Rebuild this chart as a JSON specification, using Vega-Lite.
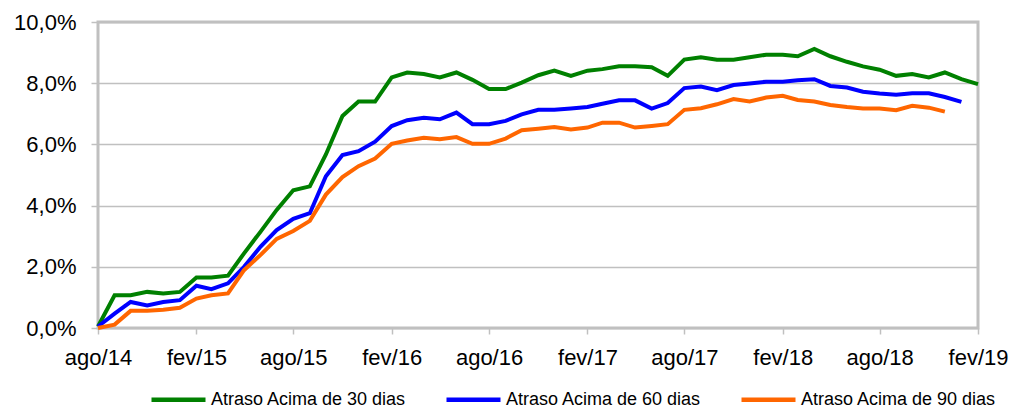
{
  "$schema": "https://vega.github.io/schema/vega-lite/v6.json",
  "width": 880,
  "height": 306,
  "autosize": {"type": "none"},
  "padding": {"left": 98, "top": 22, "right": 35, "bottom": 80},
  "background": "white",
  "data": {
    "values": [
      {"mes": "2014-08-01", "Atraso Acima de 30 dias": 0.05, "Atraso Acima de 60 dias": 0.05, "Atraso Acima de 90 dias": 0.0},
      {"mes": "2014-09-01", "Atraso Acima de 30 dias": 1.07, "Atraso Acima de 60 dias": 0.47, "Atraso Acima de 90 dias": 0.11},
      {"mes": "2014-10-01", "Atraso Acima de 30 dias": 1.07, "Atraso Acima de 60 dias": 0.85, "Atraso Acima de 90 dias": 0.56},
      {"mes": "2014-11-01", "Atraso Acima de 30 dias": 1.18, "Atraso Acima de 60 dias": 0.74, "Atraso Acima de 90 dias": 0.56},
      {"mes": "2014-12-01", "Atraso Acima de 30 dias": 1.13, "Atraso Acima de 60 dias": 0.85, "Atraso Acima de 90 dias": 0.60},
      {"mes": "2015-01-01", "Atraso Acima de 30 dias": 1.18, "Atraso Acima de 60 dias": 0.91, "Atraso Acima de 90 dias": 0.66},
      {"mes": "2015-02-01", "Atraso Acima de 30 dias": 1.65, "Atraso Acima de 60 dias": 1.38, "Atraso Acima de 90 dias": 0.96},
      {"mes": "2015-03-01", "Atraso Acima de 30 dias": 1.65, "Atraso Acima de 60 dias": 1.27, "Atraso Acima de 90 dias": 1.07},
      {"mes": "2015-04-01", "Atraso Acima de 30 dias": 1.71, "Atraso Acima de 60 dias": 1.46, "Atraso Acima de 90 dias": 1.13},
      {"mes": "2015-05-01", "Atraso Acima de 30 dias": 2.44, "Atraso Acima de 60 dias": 2.00, "Atraso Acima de 90 dias": 1.89},
      {"mes": "2015-06-01", "Atraso Acima de 30 dias": 3.15, "Atraso Acima de 60 dias": 2.66, "Atraso Acima de 90 dias": 2.39},
      {"mes": "2015-07-01", "Atraso Acima de 30 dias": 3.86, "Atraso Acima de 60 dias": 3.20, "Atraso Acima de 90 dias": 2.91},
      {"mes": "2015-08-01", "Atraso Acima de 30 dias": 4.50, "Atraso Acima de 60 dias": 3.57, "Atraso Acima de 90 dias": 3.17},
      {"mes": "2015-09-01", "Atraso Acima de 30 dias": 4.63, "Atraso Acima de 60 dias": 3.75, "Atraso Acima de 90 dias": 3.50},
      {"mes": "2015-10-01", "Atraso Acima de 30 dias": 5.67, "Atraso Acima de 60 dias": 4.96, "Atraso Acima de 90 dias": 4.36},
      {"mes": "2015-11-01", "Atraso Acima de 30 dias": 6.93, "Atraso Acima de 60 dias": 5.65, "Atraso Acima de 90 dias": 4.93},
      {"mes": "2015-12-01", "Atraso Acima de 30 dias": 7.40, "Atraso Acima de 60 dias": 5.78, "Atraso Acima de 90 dias": 5.29},
      {"mes": "2016-01-01", "Atraso Acima de 30 dias": 7.40, "Atraso Acima de 60 dias": 6.09, "Atraso Acima de 90 dias": 5.54},
      {"mes": "2016-02-01", "Atraso Acima de 30 dias": 8.19, "Atraso Acima de 60 dias": 6.60, "Atraso Acima de 90 dias": 6.02},
      {"mes": "2016-03-01", "Atraso Acima de 30 dias": 8.35, "Atraso Acima de 60 dias": 6.79, "Atraso Acima de 90 dias": 6.13},
      {"mes": "2016-04-01", "Atraso Acima de 30 dias": 8.30, "Atraso Acima de 60 dias": 6.87, "Atraso Acima de 90 dias": 6.22},
      {"mes": "2016-05-01", "Atraso Acima de 30 dias": 8.19, "Atraso Acima de 60 dias": 6.82, "Atraso Acima de 90 dias": 6.17},
      {"mes": "2016-06-01", "Atraso Acima de 30 dias": 8.35, "Atraso Acima de 60 dias": 7.04, "Atraso Acima de 90 dias": 6.24},
      {"mes": "2016-07-01", "Atraso Acima de 30 dias": 8.11, "Atraso Acima de 60 dias": 6.66, "Atraso Acima de 90 dias": 6.02},
      {"mes": "2016-08-01", "Atraso Acima de 30 dias": 7.81, "Atraso Acima de 60 dias": 6.66, "Atraso Acima de 90 dias": 6.02},
      {"mes": "2016-09-01", "Atraso Acima de 30 dias": 7.81, "Atraso Acima de 60 dias": 6.77, "Atraso Acima de 90 dias": 6.19},
      {"mes": "2016-10-01", "Atraso Acima de 30 dias": 8.02, "Atraso Acima de 60 dias": 6.98, "Atraso Acima de 90 dias": 6.46},
      {"mes": "2016-11-01", "Atraso Acima de 30 dias": 8.26, "Atraso Acima de 60 dias": 7.13, "Atraso Acima de 90 dias": 6.51},
      {"mes": "2016-12-01", "Atraso Acima de 30 dias": 8.41, "Atraso Acima de 60 dias": 7.13, "Atraso Acima de 90 dias": 6.57},
      {"mes": "2017-01-01", "Atraso Acima de 30 dias": 8.24, "Atraso Acima de 60 dias": 7.17, "Atraso Acima de 90 dias": 6.49},
      {"mes": "2017-02-01", "Atraso Acima de 30 dias": 8.41, "Atraso Acima de 60 dias": 7.22, "Atraso Acima de 90 dias": 6.55},
      {"mes": "2017-03-01", "Atraso Acima de 30 dias": 8.46, "Atraso Acima de 60 dias": 7.33, "Atraso Acima de 90 dias": 6.71},
      {"mes": "2017-04-01", "Atraso Acima de 30 dias": 8.55, "Atraso Acima de 60 dias": 7.44, "Atraso Acima de 90 dias": 6.71},
      {"mes": "2017-05-01", "Atraso Acima de 30 dias": 8.55, "Atraso Acima de 60 dias": 7.44, "Atraso Acima de 90 dias": 6.55},
      {"mes": "2017-06-01", "Atraso Acima de 30 dias": 8.52, "Atraso Acima de 60 dias": 7.17, "Atraso Acima de 90 dias": 6.60},
      {"mes": "2017-07-01", "Atraso Acima de 30 dias": 8.24, "Atraso Acima de 60 dias": 7.35, "Atraso Acima de 90 dias": 6.66},
      {"mes": "2017-08-01", "Atraso Acima de 30 dias": 8.77, "Atraso Acima de 60 dias": 7.84, "Atraso Acima de 90 dias": 7.13},
      {"mes": "2017-09-01", "Atraso Acima de 30 dias": 8.85, "Atraso Acima de 60 dias": 7.89, "Atraso Acima de 90 dias": 7.18},
      {"mes": "2017-10-01", "Atraso Acima de 30 dias": 8.77, "Atraso Acima de 60 dias": 7.77, "Atraso Acima de 90 dias": 7.31},
      {"mes": "2017-11-01", "Atraso Acima de 30 dias": 8.77, "Atraso Acima de 60 dias": 7.94, "Atraso Acima de 90 dias": 7.48},
      {"mes": "2017-12-01", "Atraso Acima de 30 dias": 8.85, "Atraso Acima de 60 dias": 7.99, "Atraso Acima de 90 dias": 7.40},
      {"mes": "2018-01-01", "Atraso Acima de 30 dias": 8.93, "Atraso Acima de 60 dias": 8.05, "Atraso Acima de 90 dias": 7.53},
      {"mes": "2018-02-01", "Atraso Acima de 30 dias": 8.93, "Atraso Acima de 60 dias": 8.05, "Atraso Acima de 90 dias": 7.59},
      {"mes": "2018-03-01", "Atraso Acima de 30 dias": 8.88, "Atraso Acima de 60 dias": 8.10, "Atraso Acima de 90 dias": 7.45},
      {"mes": "2018-04-01", "Atraso Acima de 30 dias": 9.12, "Atraso Acima de 60 dias": 8.13, "Atraso Acima de 90 dias": 7.40},
      {"mes": "2018-05-01", "Atraso Acima de 30 dias": 8.88, "Atraso Acima de 60 dias": 7.91, "Atraso Acima de 90 dias": 7.29},
      {"mes": "2018-06-01", "Atraso Acima de 30 dias": 8.70, "Atraso Acima de 60 dias": 7.86, "Atraso Acima de 90 dias": 7.22},
      {"mes": "2018-07-01", "Atraso Acima de 30 dias": 8.55, "Atraso Acima de 60 dias": 7.72, "Atraso Acima de 90 dias": 7.17},
      {"mes": "2018-08-01", "Atraso Acima de 30 dias": 8.44, "Atraso Acima de 60 dias": 7.66, "Atraso Acima de 90 dias": 7.17},
      {"mes": "2018-09-01", "Atraso Acima de 30 dias": 8.24, "Atraso Acima de 60 dias": 7.62, "Atraso Acima de 90 dias": 7.12},
      {"mes": "2018-10-01", "Atraso Acima de 30 dias": 8.30, "Atraso Acima de 60 dias": 7.67, "Atraso Acima de 90 dias": 7.26},
      {"mes": "2018-11-01", "Atraso Acima de 30 dias": 8.19, "Atraso Acima de 60 dias": 7.67, "Atraso Acima de 90 dias": 7.20},
      {"mes": "2018-12-01", "Atraso Acima de 30 dias": 8.35, "Atraso Acima de 60 dias": 7.55, "Atraso Acima de 90 dias": 7.07},
      {"mes": "2019-01-01", "Atraso Acima de 30 dias": 8.13, "Atraso Acima de 60 dias": 7.39},
      {"mes": "2019-02-01", "Atraso Acima de 30 dias": 7.97}
    ]
  },
  "transform": [
    {"fold": ["Atraso Acima de 30 dias", "Atraso Acima de 60 dias", "Atraso Acima de 90 dias"], "as": ["serie", "valor"]},
    {"filter": "isValid(datum.valor)"}
  ],
  "mark": {"type": "line", "strokeWidth": 4, "strokeJoin": "miter", "strokeCap": "butt", "clip": false},
  "encoding": {
    "x": {
      "field": "mes",
      "type": "temporal",
      "scale": {"type": "utc", "domain": [{"year": 2014, "month": 8, "date": 1, "utc": true}, {"year": 2019, "month": 2, "date": 1, "utc": true}], "nice": false},
      "axis": {
        "title": null,
        "values": [
          {"year": 2014, "month": 8, "date": 1, "utc": true},
          {"year": 2015, "month": 2, "date": 1, "utc": true},
          {"year": 2015, "month": 8, "date": 1, "utc": true},
          {"year": 2016, "month": 2, "date": 1, "utc": true},
          {"year": 2016, "month": 8, "date": 1, "utc": true},
          {"year": 2017, "month": 2, "date": 1, "utc": true},
          {"year": 2017, "month": 8, "date": 1, "utc": true},
          {"year": 2018, "month": 2, "date": 1, "utc": true},
          {"year": 2018, "month": 8, "date": 1, "utc": true},
          {"year": 2019, "month": 2, "date": 1, "utc": true}
        ],
        "labelExpr": "['jan','fev','mar','abr','mai','jun','jul','ago','set','out','nov','dez'][utcmonth(datum.value)] + '/' + utcFormat(datum.value, '%y')",
        "grid": false,
        "tickSize": 6,
        "labelPadding": 13,
        "labelFlush": false,
        "labelOverlap": false
      }
    },
    "y": {
      "field": "valor",
      "type": "quantitative",
      "scale": {"domain": [0, 10], "nice": false, "zero": true},
      "axis": {
        "title": null,
        "values": [0, 2, 4, 6, 8, 10],
        "labelExpr": "replace(format(datum.value, '.1f'), '.', ',') + '%'",
        "grid": true,
        "tickSize": 7,
        "labelPadding": 15
      }
    },
    "color": {
      "field": "serie",
      "type": "nominal",
      "scale": {
        "domain": ["Atraso Acima de 30 dias", "Atraso Acima de 60 dias", "Atraso Acima de 90 dias"],
        "range": ["#008000", "#0000ff", "#ff6600"]
      },
      "legend": {
        "title": null,
        "orient": "none",
        "legendX": 51,
        "legendY": 348,
        "direction": "horizontal",
        "columns": 3,
        "symbolType": "stroke",
        "symbolSize": 2916,
        "symbolStrokeWidth": 4.5,
        "labelFontSize": 18,
        "labelFont": "Liberation Sans",
        "labelColor": "#000000",
        "labelLimit": 400,
        "labelOffset": 3,
        "columnPadding": 30
      }
    }
  },
  "config": {
    "view": {"stroke": "#c0c0c0", "strokeWidth": 3},
    "axis": {
      "domain": false,
      "labelFont": "Liberation Sans",
      "labelFontSize": 22,
      "labelColor": "#000000",
      "tickColor": "#c0c0c0",
      "tickWidth": 1.5,
      "gridColor": "#c0c0c0",
      "gridWidth": 1.5,
      "gridOpacity": 1
    }
  }
}
